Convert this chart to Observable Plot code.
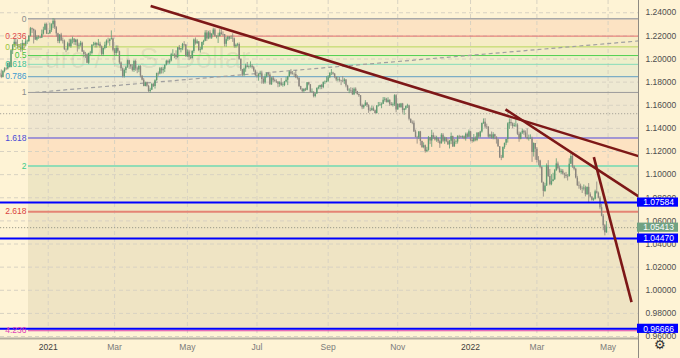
<!DOCTYPE html>
<html><head><meta charset="utf-8">
<script src="https://cdn.jsdelivr.net/npm/d3@7"></script>
<script src="https://cdn.jsdelivr.net/npm/@observablehq/plot@0.6"></script>
<style>
html,body{margin:0;padding:0;background:#fef3d5;}
#chart svg{display:block}
</style></head><body><div id="chart"></div>
<script>
// EUR/USD daily bars, [close, high, low] in pips above 1.0000; bar index 0 = 1 Jan 2021 (weekdays)
const firstBar = -30;            // 20 Nov 2020
const firstOpen = 1873;
const nov2020 = [[1860,1890,1845],[1840,1905,1830],[1893,1900,1836],[1914,1925,1880],[1913,1926,1900],[1962,1965,1905],[1927,1974,1922]];
const dec2020 = [[2071,2077,1923],[2115,2125,2039],[2145,2176,2097],[2121,2178,2110],[2107,2166,2088],[2103,2122,2088],[2079,2133,2058],[2134,2162,2059],[2112,2137,2081],[2149,2178,2130],[2151,2163,2125],[2196,2200,2142],[2262,2273,2191],[2254,2268,2221],[2242,2260,2130],[2165,2250,2160],[2187,2200,2155],[2187,2200,2170],[2180,2195,2175],[2215,2250,2180],[2249,2275,2207],[2298,2310,2245],[2216,2310,2212]];
const jan2021 = [[2216,2225,2210],[2247,2310,2226],[2297,2305,2230],[2326,2349,2263],[2271,2345,2255],[2218,2280,2190],[2151,2223,2133],[2207,2210,2132],[2157,2222,2150],[2155,2182,2130],[2081,2164,2073],[2078,2089,2054],[2131,2145,2070],[2106,2170,2103],[2165,2172,2093],[2171,2189,2130],[2142,2177,2118],[2162,2170,2115],[2110,2170,2059],[2118,2137,2080],[2136,2153,2105]];
const feb2021 = [[2061,2146,2056],[2038,2074,2011],[2036,2057,2005],[1963,2045,1960],[2048,2050,1952],[2048,2066,2028],[2119,2124,2035],[2119,2144,2110],[2134,2145,2095],[2119,2141,2095],[2128,2169,2111],[2106,2145,2092],[2040,2113,2023],[2091,2095,2023],[2118,2145,2079],[2154,2166,2091],[2151,2180,2132],[2167,2175,2110],[2175,2243,2165],[2076,2183,2062]];
const mar2021 = [[2048,2091,2025],[2090,2114,2023],[2063,2113,2049],[1966,2068,1953],[1915,1975,1893],[1848,1922,1836],[1901,1914,1835],[1927,1937,1874],[1985,1990,1919],[1951,1989,1910],[1930,1952,1911],[1901,1952,1888],[1979,1989,1884],[1914,1990,1894],[1905,1930,1873],[1936,1944,1882],[1853,1942,1837],[1817,1853,1810],[1762,1831,1760],[1794,1801,1760],[1764,1800,1756],[1718,1773,1712],[1730,1747,1704]];
const apr2021 = [[1779,1790,1730],[1762,1790,1754],[1813,1820,1740],[1874,1878,1807],[1871,1888,1851],[1915,1927,1863],[1899,1926,1870],[1912,1926,1871],[1946,1948,1883],[1980,1990,1940],[1966,1990,1952],[1982,1994,1954],[2036,2049,1975],[2036,2080,2023],[2033,2046,2003],[2013,2071,1994],[2097,2100,2004],[2081,2117,2074],[2088,2091,2053],[2126,2135,2072],[2121,2150,2106],[2020,2126,2017]];
const may2021 = [[2060,2077,2014],[2015,2074,1986],[2005,2029,1995],[2065,2072,2000],[2164,2173,2049],[2133,2182,2120],[2149,2165,2127],[2074,2150,2064],[2080,2100,2051],[2143,2146,2073],[2153,2162,2118],[2224,2245,2150],[2174,2246,2152],[2226,2240,2167],[2181,2245,2170],[2214,2220,2169],[2250,2266,2203],[2193,2265,2190],[2193,2200,2174],[2193,2223,2134],[2225,2254,2193]];
const jun2021 = [[2212,2254,2205],[2211,2235,2193],[2127,2212,2104],[2166,2185,2102],[2191,2196,2152],[2173,2195,2162],[2179,2199,2172],[2174,2218,2144],[2107,2182,2093],[2120,2130,2093],[2126,2136,2106],[1997,2139,1990],[1908,1999,1892],[1860,1910,1847],[1914,1920,1847],[1940,1955,1885],[1926,1970,1924],[1934,1942,1913],[1937,1975,1922],[1925,1951,1912],[1896,1936,1885],[1857,1905,1848]];
const jul2021 = [[1850,1885,1835],[1865,1873,1808],[1868,1894,1851],[1823,1895,1782],[1792,1839,1781],[1845,1868,1782],[1875,1880,1835],[1861,1881,1846],[1777,1880,1772],[1835,1838,1772],[1812,1849,1795],[1806,1827,1799],[1801,1820,1788],[1781,1804,1752],[1793,1804,1756],[1771,1832,1763],[1771,1794,1756],[1801,1806,1761],[1817,1840,1793],[1845,1850,1770],[1888,1895,1843],[1870,1909,1860]];
const aug2021 = [[1867,1892,1861],[1865,1880,1840],[1837,1900,1830],[1831,1855,1818],[1762,1840,1753],[1735,1764,1731],[1718,1745,1706],[1739,1742,1705],[1729,1747,1719],[1794,1797,1725],[1777,1798,1768],[1712,1780,1708],[1712,1741,1706],[1675,1717,1664],[1697,1704,1664],[1746,1751,1695],[1754,1768,1734],[1772,1774,1734],[1753,1780,1735],[1796,1802,1743],[1798,1810,1779],[1807,1846,1793]];
const sep2021 = [[1838,1857,1795],[1876,1880,1830],[1880,1909,1857],[1869,1885,1859],[1840,1875,1830],[1818,1848,1804],[1822,1844,1802],[1813,1840,1800],[1808,1816,1770],[1806,1847,1794],[1819,1831,1780],[1766,1822,1751],[1726,1773,1720],[1728,1743,1700],[1723,1752,1710],[1690,1747,1685],[1739,1750,1684],[1720,1751,1700],[1694,1715,1686],[1683,1698,1668],[1597,1683,1588],[1578,1609,1562]];
const oct2021 = [[1595,1603,1565],[1619,1640,1590],[1597,1622,1580],[1554,1605,1530],[1553,1575,1543],[1570,1593,1550],[1552,1586,1546],[1528,1559,1524],[1594,1597,1525],[1598,1624,1584],[1601,1624,1590],[1608,1620,1570],[1643,1667,1606],[1653,1667,1627],[1623,1660,1620],[1644,1665,1618],[1608,1645,1590],[1599,1624,1592],[1604,1620,1585],[1683,1691,1590],[1558,1692,1535]];
const nov2021 = [[1607,1617,1562],[1581,1614,1575],[1611,1616,1572],[1555,1616,1531],[1567,1570,1513],[1589,1595,1555],[1594,1609,1572],[1478,1600,1465],[1446,1482,1443],[1445,1465,1432],[1368,1464,1365],[1320,1385,1320],[1318,1331,1264],[1369,1373,1303],[1287,1374,1250],[1235,1290,1226],[1250,1275,1224],[1198,1256,1186],[1210,1236,1190],[1318,1330,1203],[1292,1322,1260],[1338,1383,1236]];
const dec2021 = [[1320,1360,1305],[1300,1335,1290],[1315,1332,1280],[1284,1310,1270],[1266,1300,1227],[1341,1355,1265],[1289,1355,1277],[1316,1325,1262],[1284,1321,1276],[1258,1308,1252],[1289,1297,1222],[1330,1360,1260],[1239,1333,1236],[1281,1304,1238],[1282,1300,1260],[1330,1337,1264],[1328,1340,1306],[1321,1333,1315],[1328,1335,1310],[1310,1335,1302],[1349,1360,1290],[1323,1360,1317],[1370,1386,1320]];
const jan2022 = [[1297,1376,1284],[1287,1320,1272],[1313,1347,1277],[1296,1327,1285],[1359,1364,1285],[1325,1364,1314],[1368,1375,1316],[1443,1446,1359],[1454,1482,1434],[1412,1484,1398],[1409,1437,1392],[1325,1416,1315],[1343,1349,1312],[1313,1369,1306],[1345,1363,1301],[1325,1349,1302],[1302,1325,1264],[1241,1309,1236],[1146,1241,1139],[1145,1166,1121],[1234,1240,1139]];
const feb2022 = [[1271,1272,1219],[1303,1305,1251],[1440,1448,1273],[1452,1483,1391],[1440,1483,1418],[1416,1448,1397],[1423,1444,1409],[1428,1495,1409],[1349,1440,1339],[1306,1368,1280],[1359,1366,1301],[1375,1395,1347],[1360,1385,1340],[1322,1378,1313],[1309,1396,1300],[1309,1342,1290],[1309,1344,1304],[1192,1324,1106],[1270,1274,1152],[1219,1260,1124]];
const mar2022 = [[1123,1234,1101],[1118,1156,1076],[1064,1125,1050],[930,1067,925],[855,935,806],[902,925,847],[1076,1093,898],[984,1121,975],[913,1045,903],[940,1000,904],[955,1012,937],[1035,1045,951],[1093,1137,1026],[1051,1109,1040],[1016,1069,1014],[1030,1046,1001],[1006,1044,997],[997,1013,964],[983,1019,966],[982,1000,945],[1089,1137,981],[1158,1185,1094],[1067,1184,1054]];
const apr2022 = [[1046,1076,1033],[970,1055,963],[904,986,898],[901,937,874],[877,918,862],[876,894,837],[885,911,859],[827,900,808],[890,891,821],[827,923,757],[807,843,799],[779,808,770],[788,797,769],[853,866,781],[839,936,832],[797,849,790],[714,810,697],[640,743,635],[559,655,515],[497,569,471],[545,594,493]];

// Axis ticks
const xTickBars = [0, 41, 86, 129, 173, 216, 261, 302, 346];
const xTickLabels = ["2021", "Mar", "May", "Jul", "Sep", "Nov", "2022", "Mar", "May"];
const priceTicks = [0.96, 0.98, 1.00, 1.02, 1.04, 1.06, 1.08, 1.10, 1.12, 1.14, 1.16, 1.18, 1.20, 1.22, 1.24];

// Fibonacci extension levels
const fibRatios = ["0", "0.236", "0.382", "0.5", "0.618", "0.786", "1", "1.618", "2", "2.618", "4.236"];
const fibPrices = [1.2348, 1.2198, 1.2105, 1.2030, 1.1954, 1.1847, 1.1711, 1.1317, 1.1074, 1.0680, 0.9650];
const fibLabelColors = ["#8c8c8c", "#e04c4c", "#9bc43a", "#3fc23f", "#3cc39a", "#3a9ad0", "#8c8c8c", "#4a4ad6", "#3ccb8a", "#d9443f", "#e03cb8"];
const fibLineColors = ["#a8a8a8", "#e36a6a", "#b8d65a", "#52d052", "#86dcb8", "#5f9fc2", "#9a9a9a", "#4848e0", "#92dcb6", "#e58474", "#e040b0"];
const fibBandColors = ["#fce3c3", "#f6ecc6", "#f2edc6", "#eeefca", "#edecce", "#eee9d2", "#efe6cf", "#fde2c2", "#eee6c4", "#efe4c4"];
const fibStartBar = -12.2;

// Horizontal price lines and their axis labels
const hLinePrices = [1.07584, 1.04470, 0.96666];
const lastPrice = 1.05413;
const dottedPrice = 1.1527;
const boxPrices = [1.07584, 1.05413, 1.04470, 0.96666];
const boxColors = ["#0000ff", "#72a283", "#0000ff", "#0000ff"];

// Trend lines [bar1, price1, bar2, price2]
const redTrends = [[63.3, 1.2458, 364.8, 1.1160], [282.6, 1.1564, 364.8, 1.0811], [337.2, 1.1151, 360.5, 0.9897]];
const dashedTrend = [[-8, 1.1711, 364.8, 1.2156]];

const xDomain = [-29.5, 364.8];
const yDomain = [0.9583, 1.2506];

const months = [nov2020, dec2020, jan2021, feb2021, mar2021, apr2021, may2021, jun2021, jul2021, aug2021, sep2021, oct2021, nov2021, dec2021, jan2022, feb2022, mar2022, apr2022];
const bars = months.flat();
const toP = v => 1 + v / 10000;
const candles = bars.map((b, k) => {
  const open = toP(k === 0 ? firstOpen : bars[k - 1][0]);
  const close = toP(b[0]);
  return {i: firstBar + k, open, close,
    high: Math.max(toP(b[1]), open, close), low: Math.min(toP(b[2]), open, close)};
});
const bands = fibBandColors.map((c, k) => ({y1: fibPrices[k], y2: fibPrices[k + 1], c}));
const fibs = fibRatios.map((r, k) => ({r, p: fibPrices[k], lc: fibLineColors[k], tc: fibLabelColors[k], w: (r === "2" || r === "2.618") ? 2 : (r === "0" ? 1.6 : 1), dash: r === "0" ? "1.2,1.2" : null}));
const boxes = boxPrices.map((p, k) => ({p, c: boxColors[k], t: p.toFixed(5)}));
const xLabel = new Map(xTickBars.map((b, k) => [b, xTickLabels[k]]));
const yearTicks = xTickBars.filter(b => /^\d{4}$/.test(xLabel.get(b)));
const monthTicks = xTickBars.filter(b => !/^\d{4}$/.test(xLabel.get(b)));
const upColor = "#5e9c72", downColor = "#8a857e";

const chart = Plot.plot({
  width: 680, height: 358,
  marginTop: 0, marginRight: 42, marginBottom: 20, marginLeft: 0,
  style: {background: "#fef3d5", fontFamily: "'Liberation Sans', Arial, sans-serif", fontSize: "8.5px", overflow: "visible"},
  x: {type: "linear", domain: xDomain, axis: null},
  y: {type: "linear", domain: yDomain, axis: null},
  marks: [
    Plot.rect(bands, {x1: fibStartBar, x2: xDomain[1], y1: "y1", y2: "y2", fill: "c"}),
    Plot.ruleY(priceTicks, {stroke: "#d8d2c2", strokeDasharray: "4,3", strokeWidth: 1}),
    Plot.ruleX(xTickBars, {stroke: "#d8d2c2", strokeDasharray: "4,3", strokeWidth: 1}),
    Plot.text(["Euro / U.S. Dollar"], {frameAnchor: "top-left", dx: 250, dy: 47, textAnchor: "end", fontSize: 29, fill: "#000", fillOpacity: 0.07}),
    Plot.ruleY(fibs, {y: "p", x1: fibStartBar, x2: xDomain[1], stroke: "lc", strokeWidth: "w", strokeDasharray: "dash"}),
    Plot.ruleY([dottedPrice], {stroke: "#a9a59a", strokeDasharray: "1.2,1.8", strokeWidth: 1}),
    Plot.ruleY([lastPrice], {stroke: "#9a9a8a", strokeDasharray: "1.2,1.8", strokeWidth: 1}),
    Plot.link(dashedTrend, {x1: d => d[0], y1: d => d[1], x2: d => d[2], y2: d => d[3], stroke: "#a0a0a0", strokeDasharray: "4,3", strokeWidth: 1.2}),
    Plot.ruleX(candles, {x: "i", y1: "low", y2: "high", stroke: d => d.close >= d.open ? upColor : downColor, strokeWidth: 0.8}),
    Plot.ruleX(candles, {x: "i", y1: "open", y2: d => Math.abs(d.close - d.open) < 0.0004 ? d.open + (d.close >= d.open ? 0.0004 : -0.0004) : d.close, stroke: d => d.close >= d.open ? upColor : downColor, strokeWidth: 1.4}),
    Plot.ruleY(hLinePrices, {stroke: "#0000ff", strokeWidth: 2}),
    Plot.link(redTrends, {x1: d => d[0], y1: d => d[1], x2: d => d[2], y2: d => d[3], stroke: "#7d1717", strokeWidth: 2.6, clip: true}),
    Plot.text(fibs, {x: fibStartBar, y: "p", text: "r", fill: "tc", textAnchor: "end", dx: -2, fontSize: 8.5}),
    Plot.ruleY([yDomain[0]], {stroke: "#b3ada0", strokeWidth: 2}),
    Plot.ruleX([xDomain[1]], {stroke: "#8e8a82", strokeWidth: 1, insetBottom: -20}),
    Plot.axisY({anchor: "right", label: null, ticks: priceTicks, tickFormat: d3.format(".5f"), tickSize: 0, tickPadding: 7, fontSize: 8.5, fill: "#4e4e4e"}),
    Plot.axisX({anchor: "bottom", label: null, ticks: monthTicks, tickFormat: d => xLabel.get(d), tickSize: 0, tickPadding: 5, fontSize: 8.5, fill: "#7a7a7a"}),
    Plot.axisX({anchor: "bottom", label: null, ticks: yearTicks, tickFormat: d => xLabel.get(d), tickSize: 0, tickPadding: 5, fontSize: 8.5, fill: "#3e3e3e"}),
    Plot.rect(boxes, {x1: xDomain[1], x2: xDomain[1], y1: "p", y2: "p", insetTop: -4.6, insetBottom: -4.6, insetLeft: -1, insetRight: -40, fill: "c"}),
    Plot.text(boxes, {frameAnchor: "right", y: "p", text: "t", fill: "white", textAnchor: "middle", dx: 20, fontSize: 8.5}),
    Plot.text(["\u2699"], {frameAnchor: "bottom-right", textAnchor: "middle", dx: 21, dy: 10, fontSize: 13, fill: "#333"})
  ]
});
document.getElementById("chart").appendChild(chart);
</script>
</body></html>
